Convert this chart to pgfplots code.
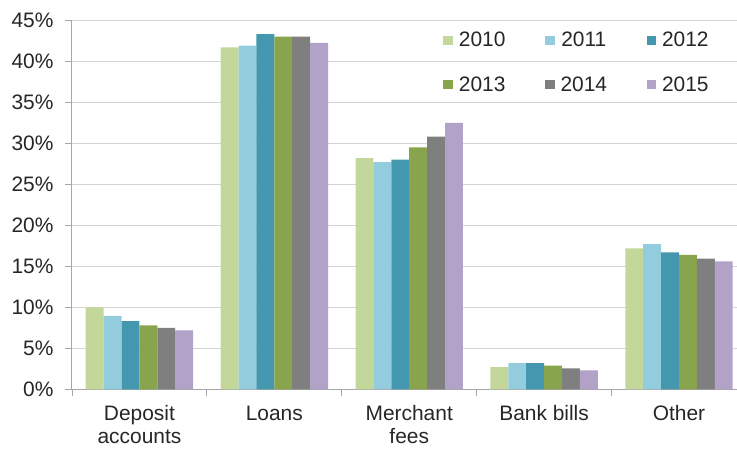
\documentclass[border=0pt]{standalone}
\usepackage{pgfplots}
\pgfplotsset{compat=1.18}
\usepackage{fontspec}
\setmainfont{Liberation Sans}

\definecolor{cA}{HTML}{C4D79B}
\definecolor{cB}{HTML}{93CDDD}
\definecolor{cC}{HTML}{4398B0}
\definecolor{cD}{HTML}{88A44C}
\definecolor{cE}{HTML}{7F7F7F}
\definecolor{cF}{HTML}{B2A2C7}
\definecolor{gridc}{HTML}{D4D4D4}
\definecolor{axc}{HTML}{A6A6A6}
\definecolor{txt}{HTML}{262626}

\begin{document}
\begin{tikzpicture}
\begin{axis}[
  scale only axis,
  width=665bp, height=369bp,
  ybar=0pt, bar width=17.9bp,
  xmin=-0.5, xmax=4.43,
  ymin=0, ymax=45,
  ytick={0,5,...,45},
  yticklabel={\pgfmathprintnumber{\tick}\%},
  /pgf/number format/assume math mode=true,
  xtick={0,1,2,3,4},
  xticklabels={{Deposit\\accounts},Loans,{Merchant\\fees},Bank bills,Other},
  minor xtick={-0.5,0.5,1.5,2.5,3.5},
  major x tick style={draw=none},
  minor x tick style={axc, line width=0.8bp},
  y tick style={axc, line width=0.8bp},
  tick align=outside,
  tick pos=left,
  major tick length=7bp, minor tick length=7bp,
  axis x line*=bottom, axis y line*=left,
  axis line style={axc, line width=1bp},
  ymajorgrids, grid style={gridc, line width=1bp},
  tick label style={font=\fontsize{21}{23}\selectfont, text=txt},
  y tick label style={xshift=-8bp},
  x tick label style={align=center, yshift=-6bp},
  legend columns=3,
  legend style={draw=none, fill=none, at={(axis description cs:0.5583,0.968)}, anchor=north west,
    font=\fontsize{21}{23}\selectfont, text=txt,
    nodes={inner sep=0pt},
    /tikz/every even column/.append style={column sep=39.5bp},
    row sep=28bp, inner sep=0pt},
  legend image code/.code={\fill[#1] (0bp,-4.75bp) rectangle (9.5bp,4.75bp); \path (15.5bp,0bp);},
  every axis plot/.append style={draw=none},
]
\addplot[fill=cA] coordinates {(0,10.0) (1,41.7) (2,28.2) (3,2.7) (4,17.2)};
\addplot[fill=cB] coordinates {(0,8.95) (1,41.9) (2,27.7) (3,3.2) (4,17.7)};
\addplot[fill=cC] coordinates {(0,8.3) (1,43.3) (2,28.0) (3,3.2) (4,16.7)};
\addplot[fill=cD] coordinates {(0,7.8) (1,43.0) (2,29.5) (3,2.9) (4,16.4)};
\addplot[fill=cE] coordinates {(0,7.5) (1,43.0) (2,30.8) (3,2.55) (4,15.95)};
\addplot[fill=cF] coordinates {(0,7.2) (1,42.25) (2,32.5) (3,2.3) (4,15.6)};
\legend{2010,2011,2012,2013,2014,2015}
\end{axis}
\pgfresetboundingbox
\path (-72bp,-60.7bp) rectangle (665bp,389.3bp);
\end{tikzpicture}
\end{document}
